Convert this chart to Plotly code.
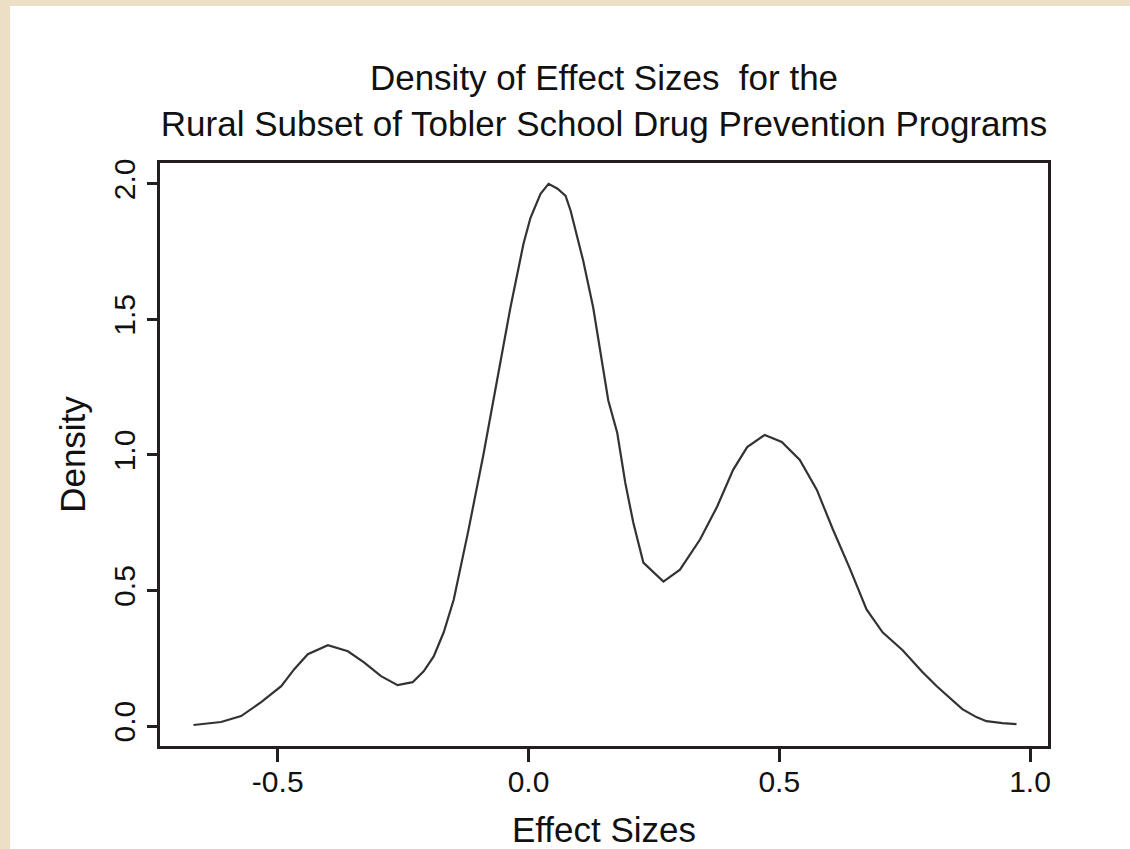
import plotly.graph_objects as go

# Kernel density estimate of effect sizes (rural subset)
effect_size = [-0.668, -0.613, -0.573, -0.533, -0.493, -0.467, -0.440, -0.400, -0.360,
               -0.328, -0.294, -0.261, -0.231, -0.209, -0.189, -0.169, -0.149, -0.120,
               -0.090, -0.062, -0.036, -0.010, 0.004, 0.024, 0.040, 0.058, 0.074, 0.084,
               0.097, 0.109, 0.129, 0.159, 0.177, 0.193, 0.209, 0.229, 0.269, 0.302,
               0.342, 0.376, 0.408, 0.436, 0.471, 0.505, 0.541, 0.575, 0.607, 0.641,
               0.674, 0.706, 0.746, 0.784, 0.814, 0.839, 0.865, 0.893, 0.913, 0.945, 0.973]
density = [0.004, 0.015, 0.037, 0.088, 0.147, 0.210, 0.265, 0.298, 0.276,
           0.235, 0.184, 0.151, 0.162, 0.202, 0.257, 0.346, 0.467, 0.720,
           1.000, 1.276, 1.544, 1.779, 1.875, 1.963, 2.000, 1.982, 1.956, 1.901,
           1.801, 1.717, 1.544, 1.202, 1.081, 0.897, 0.750, 0.603, 0.533, 0.577,
           0.688, 0.809, 0.945, 1.029, 1.074, 1.048, 0.982, 0.871, 0.725, 0.580,
           0.430, 0.346, 0.280, 0.202, 0.147, 0.107, 0.0625, 0.033, 0.018, 0.011, 0.007]

x_ticks = [-0.5, 0.0, 0.5, 1.0]
y_ticks = [0.0, 0.5, 1.0, 1.5, 2.0]

FONT = "Liberation Sans, Arial, sans-serif"
INK = "#231f20"
BEIGE = "#ecdfc6"

W, H = 1130, 849
ML, MR, MT, MB = 160, 82, 163, 103
pw, ph = W - ML - MR, H - MT - MB

fig = go.Figure()
fig.add_trace(go.Scatter(
    x=effect_size, y=density, mode="lines",
    line=dict(color="#333333", width=2.2),
    hoverinfo="skip", showlegend=False,
))

# beige page edge on the left and top
fig.add_shape(type="rect", xref="paper", yref="paper",
              x0=-ML / pw - 0.05, x1=(10 - ML) / pw, y0=-1, y1=2,
              fillcolor=BEIGE, line_width=0, layer="below")
fig.add_shape(type="rect", xref="paper", yref="paper",
              x0=-1, x1=2, y0=(H - MB - 6) / ph, y1=(H - MB) / ph + 0.2,
              fillcolor=BEIGE, line_width=0, layer="below")

fig.update_layout(
    template="none",
    width=W, height=H,
    margin=dict(l=ML, r=MR, t=MT, b=MB, autoexpand=False),
    paper_bgcolor="white", plot_bgcolor="white",
    font=dict(family=FONT, color="#111111"),
    title=dict(
        text="Density of Effect Sizes  for the<br>Rural Subset of Tobler School Drug Prevention Programs",
        x=(ML + pw / 2) / W, xanchor="center",
        y=1 - 90 / H, yanchor="middle",
        font=dict(size=35, family=FONT, color="#111111"),
    ),
)

fig.update_xaxes(
    automargin=False,
    range=[-0.7347, 1.0358],
    tickvals=x_ticks, ticktext=[f"{v:.1f}" for v in x_ticks],
    showgrid=False, zeroline=False,
    showline=True, mirror=True, linecolor=INK, linewidth=3,
    ticks="outside", ticklen=13, tickwidth=3, tickcolor=INK,
    ticklabelstandoff=-6,
    tickfont=dict(size=30, family=FONT, color="#111111"),
    title=dict(text="Effect Sizes", font=dict(size=35, family=FONT, color="#111111"), standoff=23),
)
fig.update_yaxes(
    automargin=False,
    range=[-0.0735, 2.077],
    tickvals=y_ticks, ticktext=[f"{v:.1f}" for v in y_ticks],
    tickangle=-90,
    showgrid=False, zeroline=False,
    showline=True, mirror=True, linecolor=INK, linewidth=3,
    ticks="outside", ticklen=10, tickwidth=3, tickcolor=INK,
    tickfont=dict(size=30, family=FONT, color="#111111"),
    title=dict(text="Density", font=dict(size=35, family=FONT, color="#111111"), standoff=12),
)

fig.write_html("out.html")
